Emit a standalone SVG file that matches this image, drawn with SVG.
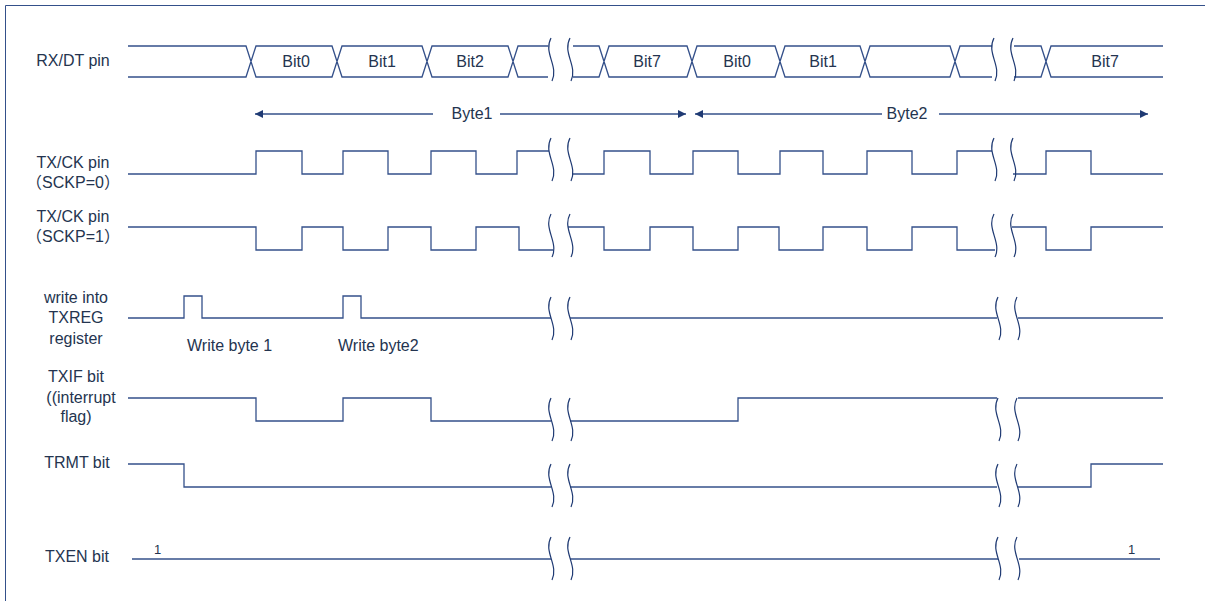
<svg xmlns="http://www.w3.org/2000/svg" xmlns:xlink="http://www.w3.org/1999/xlink" width="1205" height="601" viewBox="0 0 1205 601">
<style>
.sig{fill:none;stroke:#34508a;stroke-width:1.3}
.sq{fill:none;stroke:#1f3a73;stroke-width:1.2}
.lbl{font-family:"Liberation Sans","Noto Sans CJK SC",Arial,sans-serif;font-size:16px;fill:#24344f;text-anchor:middle}
.bit{font-family:"Liberation Sans",Arial,sans-serif;font-size:16px;fill:#24344f;text-anchor:middle}
.one{font-family:"Liberation Sans",Arial,sans-serif;font-size:13px;fill:#24344f}
.arr{fill:none;stroke:#34508a;stroke-width:1.3}
</style>
<defs>
<path id="sq" class="sq" d="M0,0 C-8,15 8,28 1,43"/>
<marker id="ah" markerWidth="9" markerHeight="9" refX="8" refY="4" orient="auto" markerUnits="userSpaceOnUse">
<path d="M0,0 L8,4 L0,8 Z" fill="#1f3a73"/>
</marker>
</defs>
<g id="frame"><path d="M5.5,601 V5.5 H1205" fill="none" stroke="#34508a" stroke-width="1"/></g>

<g id="rxdt">
<text class="lbl" x="73" y="66">RX/DT pin</text>
<path class="sig" d="M128,46 H246 L256,77 H332 L342,46 H422 L432,77 H508 L518,46 H548 M128,77 H246 L256,46 H332 L342,77 H422 L432,46 H508 L518,77 H548"/>
<path class="sig" d="M573,46 H599 L609,77 H687 L697,46 H775 L785,77 H860 L870,46 H950 L960,77 H992 M573,77 H599 L609,46 H687 L697,77 H775 L785,46 H860 L870,77 H950 L960,46 H992"/>
<path class="sig" d="M1014,46 H1041 L1051,77 H1163 M1014,77 H1041 L1051,46 H1163"/>
<text class="bit" x="296" y="67">Bit0</text>
<text class="bit" x="382" y="67">Bit1</text>
<text class="bit" x="470" y="67">Bit2</text>
<text class="bit" x="647" y="67">Bit7</text>
<text class="bit" x="737" y="67">Bit0</text>
<text class="bit" x="823" y="67">Bit1</text>
<text class="bit" x="1105" y="67">Bit7</text>
<use xlink:href="#sq" x="551" y="38"/><use xlink:href="#sq" x="570" y="38"/>
<use xlink:href="#sq" x="994" y="38"/><use xlink:href="#sq" x="1013" y="38"/>
</g>

<g id="connectors">
<line class="arr" x1="433" y1="114" x2="255" y2="114" marker-end="url(#ah)"/>
<line class="arr" x1="500" y1="114" x2="686" y2="114" marker-end="url(#ah)"/>
<line class="arr" x1="882" y1="114" x2="695" y2="114" marker-end="url(#ah)"/>
<line class="arr" x1="939" y1="114" x2="1148" y2="114" marker-end="url(#ah)"/>
<text class="bit" x="472" y="119">Byte1</text>
<text class="bit" x="907" y="119">Byte2</text>
</g>

<g id="txck0">
<text class="lbl" x="73" y="168">TX/CK pin</text>
<text class="lbl" x="73" y="188">（SCKP=0）</text>
<path class="sig" d="M128,174 H256 V151 H302 V174 H343 V151 H388 V174 H431 V151 H476 V174 H517 V151 H549"/>
<path class="sig" d="M572,174 H604 V151 H650 V174 H693 V151 H738 V174 H780 V151 H823 V174 H867 V151 H912 V174 H957 V151 H992"/>
<path class="sig" d="M1013,174 H1046 V151 H1091 V174 H1163"/>
<use xlink:href="#sq" x="551" y="138"/><use xlink:href="#sq" x="570" y="138"/>
<use xlink:href="#sq" x="994" y="138"/><use xlink:href="#sq" x="1013" y="138"/>
</g>

<g id="txck1">
<text class="lbl" x="73" y="222">TX/CK pin</text>
<text class="lbl" x="73" y="242">（SCKP=1）</text>
<path class="sig" d="M128,227 H256 V250 H302 V227 H343 V250 H388 V227 H431 V250 H476 V227 H519 V250 H553"/>
<path class="sig" d="M568,227 H604 V250 H650 V227 H693 V250 H738 V227 H779 V250 H823 V227 H867 V250 H912 V227 H957 V250 H995"/>
<path class="sig" d="M1012,227 H1046 V250 H1091 V227 H1163"/>
<use xlink:href="#sq" x="551" y="214"/><use xlink:href="#sq" x="570" y="214"/>
<use xlink:href="#sq" x="994" y="214"/><use xlink:href="#sq" x="1013" y="214"/>
</g>

<g id="txreg">
<text class="lbl" x="76" y="303">write into</text>
<text class="lbl" x="76" y="323">TXREG</text>
<text class="lbl" x="76" y="344">register</text>
<path class="sig" d="M128,318 H184 V296 H202 V318 H343 V296 H361 V318 H551"/>
<path class="sig" d="M570,318 H997"/>
<path class="sig" d="M1018,318 H1163"/>
<text class="bit" x="187" y="351" style="text-anchor:start">Write byte 1</text>
<text class="bit" x="338" y="351" style="text-anchor:start">Write byte2</text>
<use xlink:href="#sq" x="551" y="297"/><use xlink:href="#sq" x="570" y="297"/>
<use xlink:href="#sq" x="998" y="297"/><use xlink:href="#sq" x="1017" y="297"/>
</g>

<g id="txif">
<text class="lbl" x="76" y="382">TXIF bit</text>
<text class="lbl" x="81" y="403">((interrupt</text>
<text class="lbl" x="76" y="422">flag)</text>
<path class="sig" d="M128,398 H256 V421 H343 V398 H431 V421 H551"/>
<path class="sig" d="M570,421 H738 V398 H997"/>
<path class="sig" d="M1018,398 H1163"/>
<use xlink:href="#sq" x="551" y="398"/><use xlink:href="#sq" x="570" y="398"/>
<use xlink:href="#sq" x="998" y="398"/><use xlink:href="#sq" x="1017" y="398"/>
</g>

<g id="trmt">
<text class="lbl" x="77" y="468">TRMT bit</text>
<path class="sig" d="M128,464 H184 V487 H551"/>
<path class="sig" d="M570,487 H997"/>
<path class="sig" d="M1018,487 H1091 V464 H1163"/>
<use xlink:href="#sq" x="551" y="464"/><use xlink:href="#sq" x="570" y="464"/>
<use xlink:href="#sq" x="998" y="464"/><use xlink:href="#sq" x="1017" y="464"/>
</g>

<g id="txen">
<text class="lbl" x="77" y="562">TXEN bit</text>
<path class="sig" d="M132,559 H551"/>
<path class="sig" d="M570,559 H998"/>
<path class="sig" d="M1019,559 H1160"/>
<text class="one" x="154" y="554">1</text>
<text class="one" x="1128" y="554">1</text>
<use xlink:href="#sq" x="551" y="537"/><use xlink:href="#sq" x="570" y="537"/>
<use xlink:href="#sq" x="998" y="537"/><use xlink:href="#sq" x="1017" y="537"/>
</g>
</svg>
